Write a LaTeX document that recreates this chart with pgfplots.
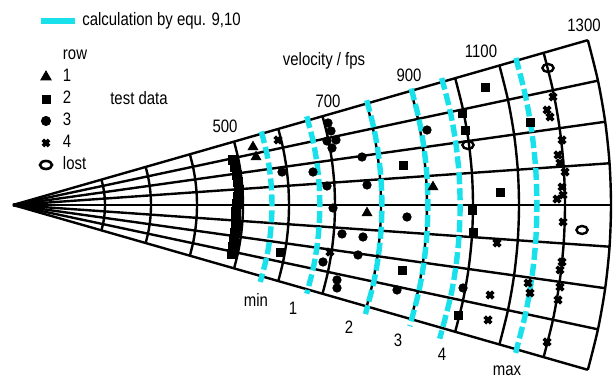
\documentclass[border=0pt]{standalone}
\usepackage{pgfplots}
\usepackage{pgfplotstable}
\pgfplotsset{compat=1.18}
\usepackage{fontspec}
\setmainfont{Liberation Sans}[FakeStretch=0.83]
\definecolor{aqua}{RGB}{25,225,235}
\newcommand\lf{\fontsize{9}{11}\selectfont}

% test data, cartesian components (fps) of velocity in the fan
\pgfplotstableread{
X Y
521.7 126.1
528.3 104.3
769.6 -17.4
913.0 39.1
}\rowone
\pgfplotstableread{
X Y
478.3 97.8
482.6 82.6
487.0 65.2
489.1 50.0
491.3 32.6
489.1 17.4
487.0 2.2
484.8 -15.2
484.8 -30.4
484.8 -45.7
482.6 -60.9
480.4 -76.1
478.3 -91.3
476.1 -106.5
}\rowtwocol
\pgfplotstableread{
X Y
580.4 -102.2
1026.1 256.5
976.1 200.0
982.6 163.0
847.8 87.0
1123.9 180.4
1058.7 28.3
997.8 -10.9
1000.0 -58.7
845.7 -141.3
967.4 -239.1
}\rowtwo
\pgfplotstableread{
X Y
584.8 71.7
652.2 71.7
682.6 41.3
695.7 -6.5
715.2 -63.0
758.7 104.3
769.6 43.5
760.9 -69.6
750.0 -108.7
673.9 -123.9
704.3 -163.0
704.3 -180.4
834.8 -184.8
900.0 163.0
856.5 -26.1
978.3 -180.4
684.8 178.3
691.3 160.9
682.6 139.1
702.2 141.3
693.5 123.9
}\rowthree
\pgfplotstableread{
X Y
576.1 141.3
689.1 -102.2
1052.2 -82.6
1037.0 -195.7
1032.6 -250.0
1119.6 -169.6
1123.9 -191.3
1173.9 234.8
1160.9 206.5
1167.4 191.3
1193.5 141.3
1184.8 108.7
1189.1 91.3
1200.0 71.7
1193.5 39.1
1195.7 21.7
1182.6 13.0
1195.7 -37.0
1193.5 -123.9
1189.1 -141.3
1189.1 -178.3
1184.8 -206.5
1160.9 -297.8
}\rowfour
\pgfplotstableread{
X Y
1163.0 297.8
989.1 130.4
1237.0 -54.3
}\rowlost

\begin{document}
\begin{tikzpicture}
\pgfplotsset{
  fanaxis/.style={x=0.23pt, y=0.23pt, xmin=-28.26, xmax=1306.5, ymin=-371.7, ymax=445.65,
    hide axis, clip=false, scale only axis},
  cyanarc/.style={aqua, line width=2.7pt, dash pattern=on 6pt off 2pt, smooth, data cs=polar},
  gridln/.style={black, line width=1.2pt, data cs=polar, forget plot},
}
\begin{axis}[fanaxis,
  legend style={at={(axis cs:54.3,417.4)}, anchor=north west, draw=none, fill=none,
    inner sep=0pt, outer sep=0pt, font=\lf,
    nodes={inner sep=0pt, text height=6.5pt, text depth=1.5pt}, column sep=2.5pt},
  legend image code/.code={\draw[#1, solid] (0pt,0pt) -- (17pt,0pt);},
]
\pgfplotsinvokeforeach{-16,-12,-8,-4,0,4,8,12,16}{
  \addplot[gridln] coordinates {(#1,0) (#1,1300)};
}
\pgfplotsinvokeforeach{200,300,400,500,600,700,800,900,1000,1100,1200,1300}{
  \addplot[gridln, smooth] coordinates {(-16,#1)(-12,#1)(-8,#1)(-4,#1)(0,#1)(4,#1)(8,#1)(12,#1)(16,#1)};
}
\addplot[cyanarc] coordinates {(16.5,563)(12,563)(8,563)(4,563)(0,563)(-4,563)(-8,563)(-12,563)(-17.3,563)};
\addlegendentry{calculation by equ. 9,10}
\addplot[cyanarc, forget plot] coordinates {(16.8,667)(12,667)(8,667)(4,667)(0,667)(-4,667)(-8,667)(-12,667)(-16.8,667)};
\addplot[cyanarc, forget plot] coordinates {(16.5,802)(12,802)(8,802)(4,802)(0,802)(-4,802)(-8,802)(-12,802)(-17.2,802)};
\addplot[cyanarc, forget plot] coordinates {(16.3,902)(12,902)(8,902)(4,902)(0,902)(-4,902)(-8,902)(-12,902)(-17,902)};
\addplot[cyanarc, forget plot] coordinates {(16.5,972)(12,972)(8,972)(4,972)(0,972)(-4,972)(-8,972)(-12,972)(-17.4,972)};
\addplot[cyanarc, forget plot] coordinates {(16.3,1139)(12,1139)(8,1139)(4,1139)(0,1139)(-4,1139)(-8,1139)(-12,1139)(-16.4,1139)};

\addplot[only marks, mark=triangle*, mark size=2.8pt, black, forget plot] table {\rowone};
\addplot[only marks, mark=square*, mark size=2.3pt, black, forget plot] table {\rowtwocol};
\addplot[only marks, mark=square*, mark size=2pt, black, forget plot] table {\rowtwo};
\addplot[only marks, mark=*, mark size=2.1pt, black, forget plot] table {\rowthree};
\addplot[only marks, mark=x, mark size=2.3pt, black, mark options={line width=1.8pt}, forget plot] table {\rowfour};
\addplot[only marks, mark=o, mark size=2pt, black, mark options={xscale=1.4, line width=1.2pt}, forget plot] table {\rowlost};

\node[font=\lf, anchor=base] at (axis cs:460.9,156.5) {500};
\node[font=\lf, anchor=base] at (axis cs:684.8,213.0) {700};
\node[font=\lf, anchor=base] at (axis cs:860.9,267.4) {900};
\node[font=\lf, anchor=base] at (axis cs:1017.4,321.7) {1100};
\node[font=\lf, anchor=base] at (axis cs:1241.3,376.1) {1300};
\node[font=\lf, anchor=base] at (axis cs:676.1,302.2) {velocity / fps};
\node[font=\lf, anchor=base] at (axis cs:273.9,217.4) {test data};
\node[font=\lf, anchor=base] at (axis cs:528.3,-221.7) {min};
\node[font=\lf, anchor=base] at (axis cs:608.7,-239.1) {1};
\node[font=\lf, anchor=base] at (axis cs:730.4,-278.3) {2};
\node[font=\lf, anchor=base] at (axis cs:837.0,-308.7) {3};
\node[font=\lf, anchor=base] at (axis cs:932.6,-337.0) {4};
\node[font=\lf, anchor=base] at (axis cs:1073.9,-369.6) {max};
\coordinate (BL) at (axis cs:-28.26,-371.7);
\coordinate (TR) at (axis cs:1306.5,445.65);
\end{axis}

\begin{axis}[fanaxis,
  legend style={at={(axis cs:47.8,343.5)}, anchor=north west, draw=none, fill=none,
    inner sep=0pt, outer sep=0pt, font=\lf,
    nodes={inner sep=0pt, text height=6.5pt, text depth=1.5pt}, row sep=3pt, column sep=5.5pt},
  legend cell align=left,
  legend image code/.code={\draw[mark repeat=2,mark phase=2,#1] plot coordinates {(0pt,0pt) (5.5pt,0pt) (11pt,0pt)};},
]
\addlegendimage{empty legend}\addlegendentry{row}
\addlegendimage{only marks, mark=triangle*, mark size=3pt, black}\addlegendentry{1}
\addlegendimage{only marks, mark=square*, mark size=2pt, black}\addlegendentry{2}
\addlegendimage{only marks, mark=*, mark size=2.3pt, black}\addlegendentry{3}
\addlegendimage{only marks, mark=x, mark size=2.2pt, black, mark options={line width=1.8pt}}\addlegendentry{4}
\addlegendimage{only marks, mark=o, mark size=2pt, black, mark options={xscale=1.5, line width=1.3pt}}\addlegendentry{lost}
\end{axis}
\pgfresetboundingbox
\path[use as bounding box] (BL) rectangle (TR);
\end{tikzpicture}
\end{document}
